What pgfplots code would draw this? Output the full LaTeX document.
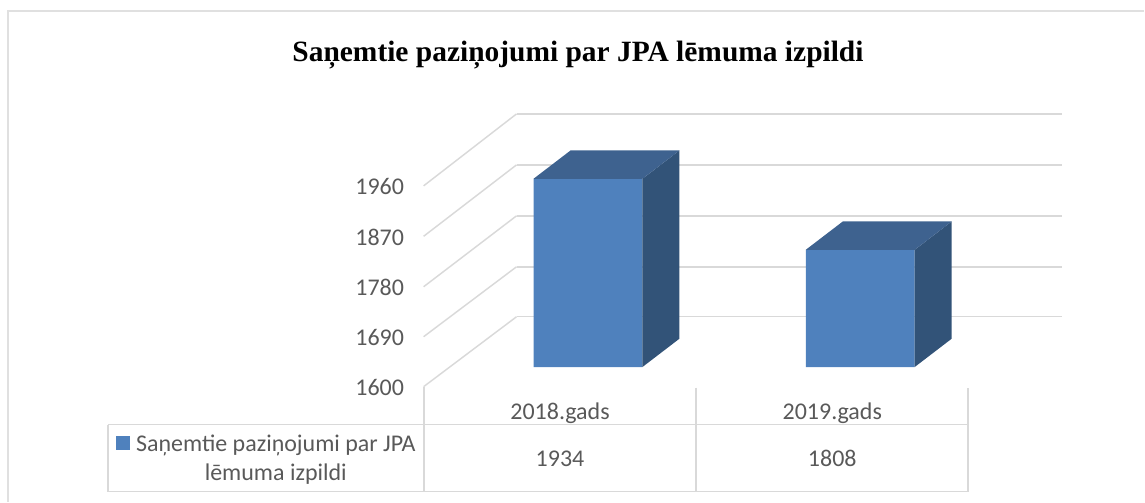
\documentclass[border=0pt]{standalone}
\usepackage{pgfplots}
\pgfplotsset{compat=1.18}
\usepackage{fontspec}
\setmainfont{Carlito}
\newfontfamily\titlefont{Liberation Serif}
\definecolor{barfront}{HTML}{4F81BD}
\definecolor{bartop}{HTML}{3E628F}
\definecolor{barside}{HTML}{325378}
\definecolor{gridgray}{HTML}{D9D9D9}
\definecolor{txt}{HTML}{595959}
\definecolor{frm}{HTML}{E0E0E0}
\pgfplotsset{px/.style={scale only axis,width=858.75pt,xmin=0,xmax=1145,clip=false,anchor=south west}}
\begin{document}
\begin{tikzpicture}
\path (0,0) rectangle (858.75pt,376.5pt);
% pixel layer: frame, walls, table, texts
\begin{axis}[px,at={(0,0)},height=376.5pt,ymin=0,ymax=502,y dir=reverse,hide axis]
\addplot[frm,line width=1.5pt,forget plot] coordinates {(8.5,502) (8.5,11) (1145,11)};
% back wall grid
\addplot[gridgray,line width=1.1pt] coordinates {(517,114) (1063,114)};
\addplot[gridgray,line width=1.1pt] coordinates {(517,165) (1063,165)};
\addplot[gridgray,line width=1.1pt] coordinates {(517,216) (1063,216)};
\addplot[gridgray,line width=1.1pt] coordinates {(517,267) (1063,267)};
\addplot[gridgray,line width=1.1pt] coordinates {(517,317) (1063,317)};
% side wall grid
\addplot[gridgray,line width=1.1pt] coordinates {(424,186) (517,114)};
\addplot[gridgray,line width=1.1pt] coordinates {(424,236.5) (517,165)};
\addplot[gridgray,line width=1.1pt] coordinates {(424,287) (517,216)};
\addplot[gridgray,line width=1.1pt] coordinates {(424,337) (517,267)};
\addplot[gridgray,line width=1.1pt] coordinates {(424,387) (517,317)};
% data table
\addplot[gridgray,line width=1.2pt] coordinates {(108,425) (969,425)};
\addplot[gridgray,line width=1.2pt] coordinates {(108,425) (108,492) (969,492) (969,388)};
\addplot[gridgray,line width=1.2pt] coordinates {(424.5,387) (424.5,492)};
\addplot[gridgray,line width=1.2pt] coordinates {(696.5,388) (696.5,492)};
\node[font=\titlefont\bfseries\fontsize{22.1pt}{26pt}\selectfont,text=black] at (axis cs:578.5,55) {Saņemtie paziņojumi par JPA lēmuma izpildi};
\node[text=txt,font=\fontsize{18pt}{22pt}\selectfont] at (axis cs:560.5,413.5) {2018.gads};
\node[text=txt,font=\fontsize{18pt}{22pt}\selectfont] at (axis cs:833,413.5) {2019.gads};
\node[text=txt,font=\fontsize{18pt}{22pt}\selectfont] at (axis cs:560.5,459) {1934};
\node[text=txt,font=\fontsize{18pt}{22pt}\selectfont] at (axis cs:833,459) {1808};
\node[text=txt,font=\fontsize{18pt}{22pt}\selectfont,anchor=center] at (axis cs:276,446) {Saņemtie paziņojumi par JPA};
\node[text=txt,font=\fontsize{18pt}{22pt}\selectfont,anchor=center] at (axis cs:276,475) {lēmuma izpildi};
\addplot[fill=barfront,draw=none] coordinates {(116,436) (130.5,436) (130.5,450) (116,450)} --cycle;
\end{axis}
% value axis on the front of the side wall
\begin{axis}[scale only axis,at={(318pt,85.5pt)},anchor=south west,width=60pt,height=150.75pt,
  xmin=0,xmax=1,ymin=1600,ymax=1960,axis x line=none,axis y line=left,
  axis line style={draw=none},ytick={1600,1690,1780,1870,1960},major tick length=0pt,
  yticklabel style={text=txt,font=\fontsize{18pt}{22pt}\selectfont,xshift=-11.2pt},
  /pgf/number format/assume math mode=true,/pgf/number format/1000 sep={}]
\addplot[draw=none] coordinates {(0,1600) (1,1960)};
\end{axis}
% bars: pixels across, data values up
\begin{axis}[px,at={(0,101pt)},height=152.3pt,ymin=1600,ymax=1960,hide axis]
\addplot[ybar,bar width=81.75pt,fill=barfront,draw=none] coordinates {(588.5,1934) (861,1808)};
% side faces
\addplot[fill=barside,draw=none] coordinates {(643,1600) (680,1650.2) (680,1984.2) (643,1934)} --cycle;
\addplot[fill=barside,draw=none] coordinates {(915.5,1600) (952.5,1650.2) (952.5,1858.2) (915.5,1808)} --cycle;
% top faces
\addplot[fill=bartop,draw=none] coordinates {(534,1934) (571,1984.2) (680,1984.2) (643,1934)} --cycle;
\addplot[fill=bartop,draw=none] coordinates {(806.5,1808) (843.5,1858.2) (952.5,1858.2) (915.5,1808)} --cycle;
\end{axis}
\end{tikzpicture}
\end{document}
